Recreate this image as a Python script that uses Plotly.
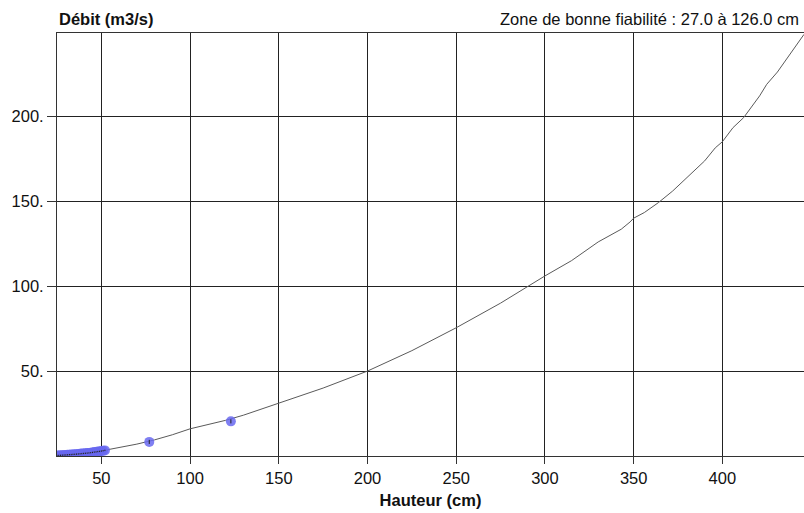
import plotly.graph_objects as go

# Rating curve (hauteur cm -> débit m3/s)
curve_h = [25, 30, 35, 40, 45, 50, 60, 70, 80, 90, 100, 110, 120, 130, 140, 150,
           175, 200, 225, 250, 275, 300, 315, 330, 343, 348, 350, 356, 364, 372,
           381, 390, 396, 400, 406, 412, 421, 425, 431, 440, 446]
curve_q = [0.2, 0.6, 1.0, 1.5, 2.2, 3.0, 5.0, 7.0, 9.5, 12.5, 16.0, 18.5, 21.0, 24.0,
           27.5, 31.0, 40.0, 50.0, 62.0, 75.5, 90.0, 106.0, 115.0, 126.0, 133.5, 137.8,
           140.0, 143.3, 149.2, 156.0, 165.0, 173.7, 181.4, 185.0, 193.3, 199.2, 212.0,
           218.8, 226.0, 239.4, 248.2]

# Gaugings
gaug_h = [25, 26, 27, 28, 29, 30, 31, 32, 33, 34, 35, 36, 37, 38, 39, 40, 41, 42,
          43, 44, 45, 46, 47, 48, 49, 50, 51, 52, 77, 123]
gaug_q = [0.3, 0.35, 0.4, 0.5, 0.55, 0.6, 0.7, 0.8, 0.85, 0.95, 1.0, 1.1, 1.2, 1.3,
          1.4, 1.5, 1.6, 1.7, 1.8, 1.95, 2.1, 2.3, 2.4, 2.6, 2.7, 2.9, 3.1, 3.3, 8.3, 20.4]
gaug_err = [0.4] * 28 + [1.2, 1.2]

xticks = [50, 100, 150, 200, 250, 300, 350, 400]
yticks = [50, 100, 150, 200]
yticktext = ["50.", "100.", "150.", "200."]

FONT = "Liberation Sans, Arial, sans-serif"
FS = 16.5

fig = go.Figure()
fig.add_trace(go.Scatter(
    x=curve_h, y=curve_q, mode="lines",
    line=dict(color="#5a5a5a", width=1), hoverinfo="skip", showlegend=False))
fig.add_trace(go.Scatter(
    x=gaug_h, y=gaug_q, mode="markers",
    marker=dict(color="rgba(105,105,240,0.85)", size=10, line=dict(width=0)),
    showlegend=False))
fig.add_trace(go.Scatter(
    x=gaug_h, y=gaug_q, mode="markers",
    marker=dict(size=1, opacity=0),
    error_y=dict(type="data", array=gaug_err, color="#222222", thickness=1, width=0),
    hoverinfo="skip", showlegend=False))

fig.update_layout(
    width=804, height=513,
    margin=dict(l=57, r=0, t=33, b=57),
    paper_bgcolor="white", plot_bgcolor="white",
    font=dict(family=FONT, size=FS, color="#111111"),
    xaxis=dict(range=[25, 446], tickvals=xticks, showgrid=True, gridcolor="#222222",
               gridwidth=1, zeroline=False, showline=True, linecolor="#333333",
               mirror=True, ticks="outside", ticklen=7, tickcolor="#333333",
               tickfont=dict(size=FS),
               title=dict(text="<b>Hauteur (cm)</b>", font=dict(size=FS), standoff=8)),
    yaxis=dict(range=[0, 249], tickvals=yticks, ticktext=yticktext, showgrid=True,
               gridcolor="#222222", gridwidth=1, zeroline=False, showline=True,
               linecolor="#333333", ticks="outside", ticklen=9, tickcolor="#333333",
               tickfont=dict(size=FS)),
    annotations=[
        dict(text="<b>Débit (m3/s)</b>", xref="paper", yref="paper", x=0, y=1,
             xanchor="left", yanchor="bottom", yshift=3, showarrow=False,
             font=dict(size=FS)),
        dict(text="Zone de bonne fiabilité : 27.0 à 126.0 cm", xref="paper", yref="paper",
             x=1, y=1, xanchor="right", yanchor="bottom", xshift=-3, yshift=3,
             showarrow=False, font=dict(size=FS)),
    ],
)

fig.write_html("out.html")
